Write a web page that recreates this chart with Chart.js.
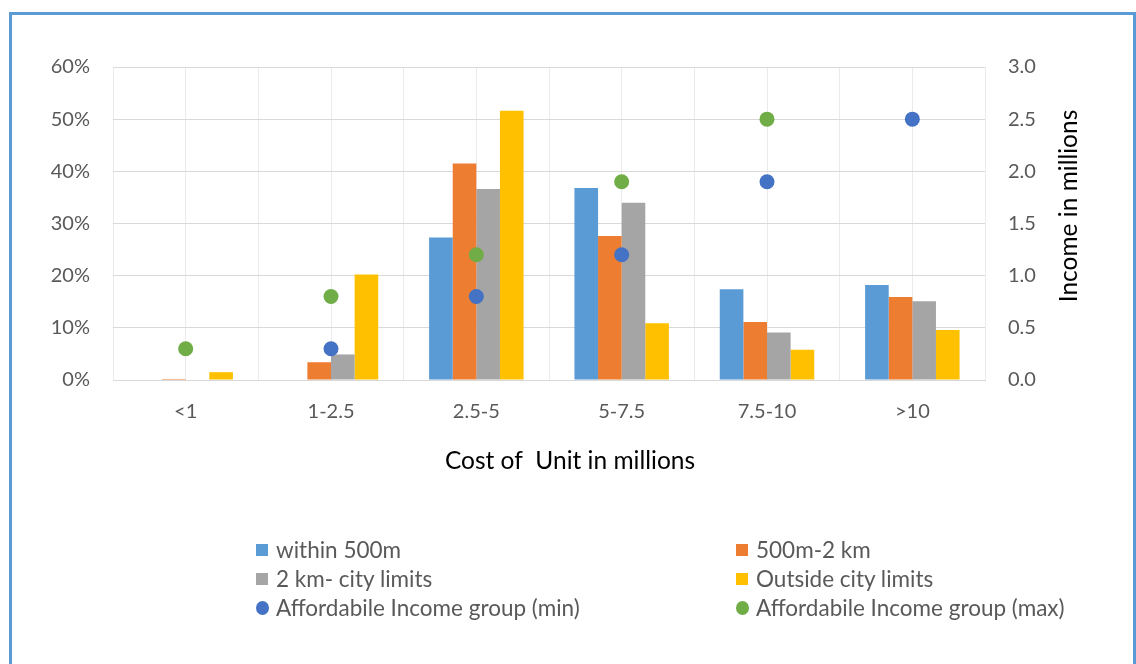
<!DOCTYPE html>
<html>
<head>
<meta charset="utf-8">
<script src="https://cdn.jsdelivr.net/npm/chart.js@4.4.1/dist/chart.umd.min.js"></script>
<style>
  html, body { margin: 0; padding: 0; background: #ffffff; }
  body { width: 1136px; height: 664px; position: relative; overflow: hidden; font-family: Lato, "Noto Sans", sans-serif; }
  #frame { position: absolute; left: 9px; top: 12px; width: 1127px; height: 700px; box-sizing: border-box; border: 3px solid #5b9bd5; }
  #chart { position: absolute; left: 0; top: 0; }
  #legend { position: absolute; left: 256px; top: 535px; display: grid; grid-template-columns: 480px 380px; grid-auto-rows: 29px; }
  .item { display: flex; align-items: center; color: #595959; font-size: 22.5px; white-space: nowrap; }
  .mk { display: inline-block; width: 12px; height: 12px; margin-right: 8px; }
  .mk.dot { width: 13px; height: 14px; border-radius: 50%; margin-right: 7px; }
</style>
</head>
<body>
<div id="frame"></div>
<canvas id="chart" width="1136" height="664"></canvas>
<div id="legend"></div>
<script>
// Price bands of a housing unit (millions)
const categories = ['<1', '1-2.5', '2.5-5', '5-7.5', '7.5-10', '>10'];

// Share of units (%) in each distance band
const within500m      = [0,    0,    27.3, 36.8, 17.4, 18.2];
const from500mTo2km   = [0.2,  3.4,  41.5, 27.6, 11.1, 15.9];
const from2kmToCity   = [0,    4.9,  36.6, 34.0,  9.1, 15.1];
const outsideCity     = [1.5, 20.2,  51.6, 10.9,  5.8,  9.6];

// Affordable income group (millions), right axis
const incomeMin = [null, 0.3, 0.8, 1.2, 1.9, 2.5];
const incomeMax = [0.3,  0.8, 1.2, 1.9, 2.5, null];

// Axis ticks
const percentTicks = [0, 10, 20, 30, 40, 50, 60];
const incomeTicks  = [0, 0.5, 1.0, 1.5, 2.0, 2.5, 3.0];

const FONT = 'Lato';
const TICK_COLOR = '#595959';
const TICK_SIZE = 20;

// Axis titles: bottom title and rotated right-hand title (reads bottom to top)
const axisTitles = {
  id: 'axisTitles',
  afterDraw(chart) {
    const { ctx } = chart;
    ctx.save();
    ctx.font = '24.5px ' + FONT;
    ctx.fillStyle = '#000000';
    ctx.textAlign = 'center';
    ctx.textBaseline = 'middle';
    ctx.fillText('Cost of  Unit in millions', 570, 461);
    ctx.translate(1069, 206);
    ctx.rotate(-Math.PI / 2);
    ctx.fillText('Income in millions', 0, 0);
    ctx.restore();
  }
};

const barDs = (label, data, color) => ({
  type: 'bar', label, data, backgroundColor: color, borderWidth: 0,
  xAxisID: 'x', yAxisID: 'y', order: 1,
  barPercentage: 1, categoryPercentage: 0.65
});
const dotDs = (label, data, color) => ({
  type: 'line', label, data, showLine: false,
  pointRadius: 7.5, pointHoverRadius: 7.5, pointBackgroundColor: color,
  pointBorderWidth: 0, borderColor: color, backgroundColor: color,
  xAxisID: 'x', yAxisID: 'y2', order: 0
});

const chart = new Chart(document.getElementById('chart'), {
  data: {
    labels: categories,
    datasets: [
      barDs('within 500m', within500m, '#5b9bd5'),
      barDs('500m-2 km', from500mTo2km, '#ed7d31'),
      barDs('2 km- city limits', from2kmToCity, '#a5a5a5'),
      barDs('Outside city limits', outsideCity, '#ffc000'),
      dotDs('Affordabile Income group (min)', incomeMin, '#4472c4'),
      dotDs('Affordabile Income group (max)', incomeMax, '#70ad47')
    ]
  },
  options: {
    responsive: false,
    animation: false,
    devicePixelRatio: 1,
    layout: { padding: { left: 43, right: 71, top: 67, bottom: 184 } },
    plugins: { legend: { display: false }, tooltip: { enabled: false } },
    scales: {
      x: {
        type: 'category', position: 'bottom', offset: true,
        grid: { display: false, drawTicks: false },
        border: { display: true, color: '#d9d9d9', width: 1 },
        ticks: { color: TICK_COLOR, font: { family: FONT, size: TICK_SIZE }, padding: 20, maxRotation: 0 },
        afterFit(s) { s.height = 100; }
      },
      xg: {
        type: 'linear', position: 'bottom', min: 0, max: 12,
        grid: { color: '#ebebeb', lineWidth: 1, drawTicks: false },
        border: { display: false },
        ticks: { display: false, stepSize: 1 },
        afterFit(s) { s.height = 0; }
      },
      y: {
        type: 'linear', position: 'left', min: 0, max: 60,
        afterBuildTicks(s) { s.ticks = percentTicks.map(v => ({ value: v })); },
        grid: { color: '#d9d9d9', lineWidth: 1, drawTicks: false },
        border: { display: false },
        ticks: { color: TICK_COLOR, font: { family: FONT, size: TICK_SIZE }, padding: 23,
                 callback: v => v + '%' },
        afterFit(s) { s.width = 70; }
      },
      y2: {
        type: 'linear', position: 'right', min: 0, max: 3,
        afterBuildTicks(s) { s.ticks = incomeTicks.map(v => ({ value: v })); },
        grid: { display: false, drawTicks: false },
        border: { display: false },
        ticks: { color: TICK_COLOR, font: { family: FONT, size: TICK_SIZE }, padding: 23,
                 callback: v => Number(v).toFixed(1) },
        afterFit(s) { s.width = 80; }
      }
    }
  },
  plugins: [axisTitles]
});

// Two-column legend built from the chart's datasets
const legend = document.getElementById('legend');
chart.data.datasets.forEach(ds => {
  const item = document.createElement('div');
  item.className = 'item';
  const mk = document.createElement('span');
  mk.className = 'mk' + (ds.type === 'line' ? ' dot' : '');
  mk.style.background = ds.type === 'line' ? ds.pointBackgroundColor : ds.backgroundColor;
  item.appendChild(mk);
  item.appendChild(document.createTextNode(ds.label));
  legend.appendChild(item);
});
</script>
</body>
</html>
